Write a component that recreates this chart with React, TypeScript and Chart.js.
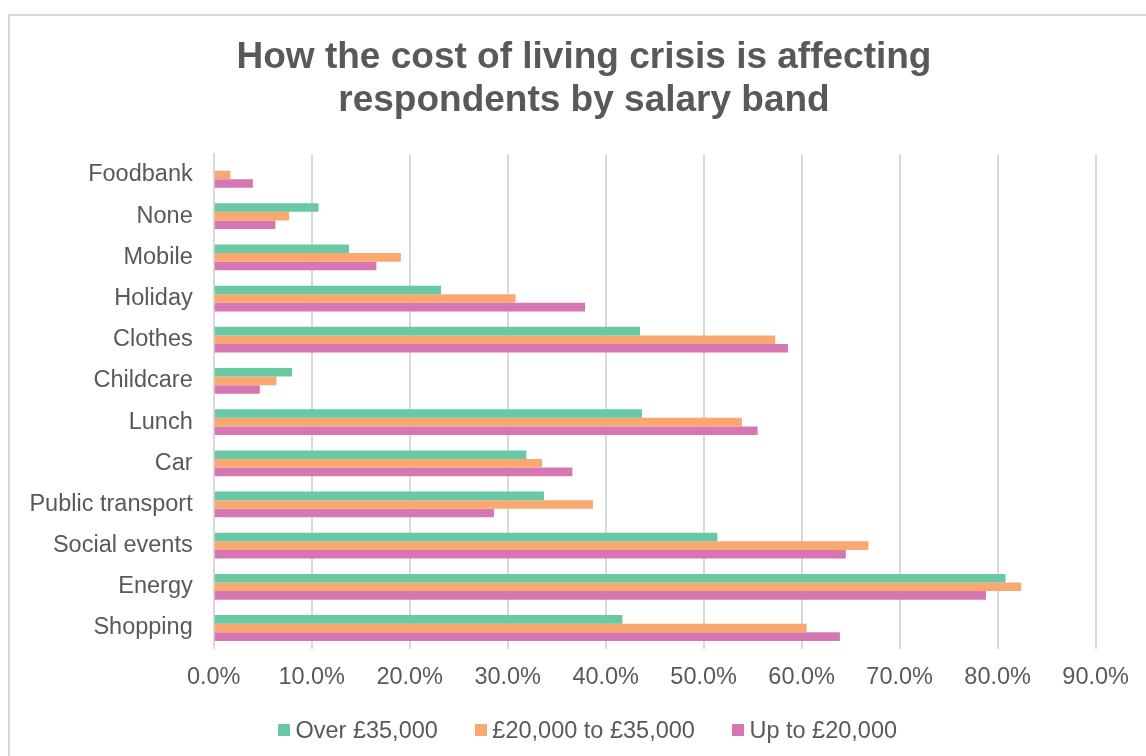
import React, { useEffect, useRef } from "react";
import { Chart, registerables } from "chart.js";

Chart.register(...registerables);

const categories = [
  "Foodbank",
  "None",
  "Mobile",
  "Holiday",
  "Clothes",
  "Childcare",
  "Lunch",
  "Car",
  "Public transport",
  "Social events",
  "Energy",
  "Shopping",
];

const over35k = [0, 10.7, 13.8, 23.2, 43.5, 8.0, 43.7, 31.9, 33.7, 51.4, 80.8, 41.7];
const from20kTo35k = [1.7, 7.7, 19.1, 30.8, 57.3, 6.4, 53.9, 33.5, 38.7, 66.8, 82.4, 60.5];
const upTo20k = [4.0, 6.3, 16.6, 37.9, 58.6, 4.7, 55.5, 36.6, 28.6, 64.5, 78.8, 63.9];

const seriesNames = ["Over £35,000", "£20,000 to £35,000", "Up to £20,000"];
const seriesColors = ["#68C9A2", "#F8A870", "#D677B3"];

const titleLines = ["How the cost of living crisis is affecting", "respondents by salary band"];

const FONT = "'Liberation Sans', Arial, sans-serif";
const TEXT = "#595959";
const GRID = "#d9d9d9";
const LABEL_SIZE = 23.5;

const CANVAS_LEFT = 24;
const CANVAS_TOP = 16;
const CANVAS_W = 1120;
const CANVAS_H = 740;

export default function App() {
  const ref = useRef<HTMLCanvasElement | null>(null);

  useEffect(() => {
    if (!ref.current) return;
    const chart = new Chart(ref.current, {
      type: "bar",
      data: {
        labels: categories,
        datasets: [over35k, from20kTo35k, upTo20k].map((d, i) => ({
          label: seriesNames[i],
          data: d,
          backgroundColor: seriesColors[i],
          borderWidth: 0,
          categoryPercentage: 0.626,
          barPercentage: 1.0,
        })),
      },
      options: {
        indexAxis: "y",
        responsive: false,
        animation: false,
        devicePixelRatio: 1,
        layout: { padding: { left: 0, right: 0, top: 0, bottom: 49.2 } },
        plugins: {
          title: {
            display: true,
            text: titleLines,
            color: TEXT,
            font: { family: FONT, size: 37, weight: "bold", lineHeight: 1.162 },
            padding: { top: 20, bottom: 32.4 },
          },
          legend: { display: false },
          tooltip: { enabled: false },
        },
        scales: {
          x: {
            min: 0,
            max: 90,
            ticks: {
              stepSize: 10,
              color: TEXT,
              font: { family: FONT, size: LABEL_SIZE },
              padding: 15,
              maxRotation: 0,
              callback: (v: any) => Number(v).toFixed(1) + "%",
            },
            grid: { color: GRID, lineWidth: 2, drawTicks: false },
            border: { display: false },
          },
          y: {
            ticks: {
              color: TEXT,
              font: { family: FONT, size: LABEL_SIZE },
              padding: 21,
              autoSkip: false,
            },
            grid: { display: false, drawTicks: false },
            border: { display: true, color: GRID, width: 2 },
            afterFit: (scale: any) => {
              scale.width = 213.7 - CANVAS_LEFT;
            },
          },
        },
      },
    });
    return () => chart.destroy();
  }, []);

  return (
    <div style={{ position: "fixed", inset: 0, overflow: "hidden", background: "#fff" }}>
      <div
        style={{
          position: "absolute",
          left: 8,
          top: 14,
          width: 1170,
          height: 780,
          border: "2px solid #d9d9d9",
          boxSizing: "border-box",
        }}
      />
      <canvas
        ref={ref}
        width={CANVAS_W}
        height={CANVAS_H}
        style={{ position: "absolute", left: CANVAS_LEFT, top: CANVAS_TOP, width: CANVAS_W, height: CANVAS_H }}
      />
      <div
        style={{
          position: "absolute",
          left: 0,
          width: 1175,
          top: 715,
          height: 30,
          display: "flex",
          justifyContent: "center",
          alignItems: "center",
          gap: 37,
          fontFamily: FONT,
          fontSize: LABEL_SIZE,
          color: TEXT,
          whiteSpace: "nowrap",
        }}
      >
        {seriesNames.map((name, i) => (
          <div key={name} style={{ display: "flex", alignItems: "center" }}>
            <span
              style={{
                display: "inline-block",
                width: 12.5,
                height: 12.5,
                background: seriesColors[i],
                marginRight: 5,
              }}
            />
            <span>{name}</span>
          </div>
        ))}
      </div>
    </div>
  );
}
